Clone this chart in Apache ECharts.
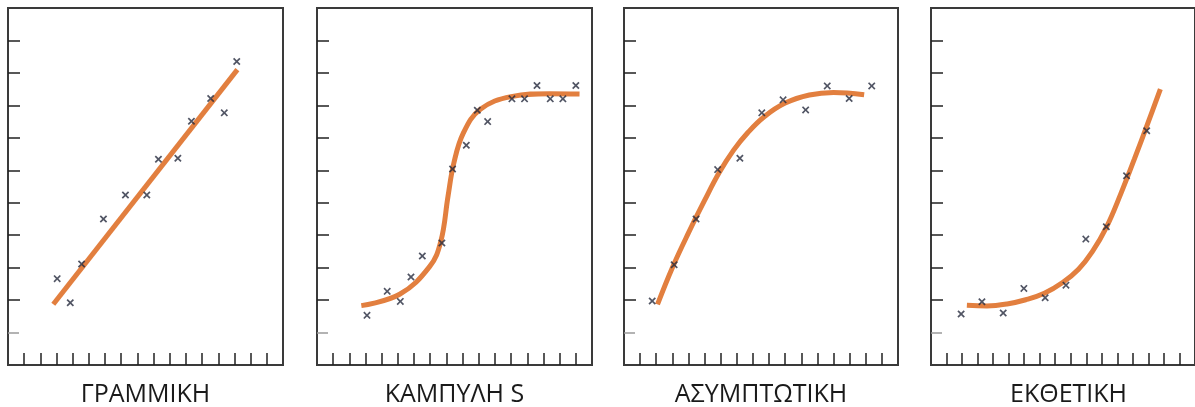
<!DOCTYPE html>
<html>
<head>
<meta charset="utf-8">
<script src="https://cdn.jsdelivr.net/npm/echarts@6/dist/echarts.min.js"></script>
<style>
html,body{margin:0;padding:0;background:#fff;}
#chart{width:1195px;height:407px;}
</style>
</head>
<body>
<div id="chart"></div>
<script>
// ---- data ----
const panelTitles = ['ΓΡΑΜΜΙΚΗ', 'ΚΑΜΠΥΛΗ S', 'ΑΣΥΜΠΤΩΤΙΚΗ', 'ΕΚΘΕΤΙΚΗ'];
const xTicks = [1,2,3,4,5,6,7,8,9,10,11,12,13,14,15,16];
const yTicksDark = [2,3,4,5,6,7,8,9,10];
const yTicksLight = [1];

const linearPoints = [[3.04,2.66],[3.85,1.92],[4.55,3.11],[5.9,4.5],[7.26,5.24],[8.58,5.24],[9.3,6.34],[10.5,6.37],[11.34,7.51],[12.53,8.21],[13.37,7.77],[14.14,9.35]];
const linearFit = [[2.8,1.87],[14.18,9.1]];

const sPoints = [[3.09,1.53],[4.34,2.27],[5.15,1.96],[5.81,2.71],[6.51,3.36],[7.72,3.76],[8.38,6.04],[9.23,6.77],[9.91,7.85],[10.55,7.5],[12.05,8.2],[12.83,8.2],[13.6,8.61],[14.42,8.2],[15.2,8.2],[16.0,8.61]];
const sFit = [[2.74,1.83],[5.11,2.18],[6.96,3.03],[7.65,3.8],[8.1,5.2],[8.45,6.2],[9.05,7.15],[10.1,7.88],[12.0,8.27],[14.38,8.36],[16.23,8.35]];

const asymPoints = [[1.75,1.97],[3.11,3.09],[4.47,4.5],[5.81,6.02],[7.19,6.37],[8.55,7.77],[9.87,8.17],[11.27,7.86],[12.61,8.6],[13.97,8.21],[15.37,8.6]];
const asymFit = [[2.08,1.87],[3.0,3.0],[4.0,4.07],[5.0,5.07],[5.9,5.92],[6.8,6.62],[7.7,7.17],[8.7,7.65],[10.0,8.07],[11.5,8.32],[13.0,8.4],[14.9,8.33]];

const expPoints = [[1.94,1.57],[3.28,1.95],[4.65,1.6],[5.98,2.36],[7.35,2.07],[8.69,2.46],[9.97,3.88],[11.29,4.26],[12.59,5.83],[13.89,7.22]];
const expFit = [[2.31,1.84],[3.6,1.82],[4.9,1.88],[6.1,2.01],[7.3,2.21],[8.5,2.55],[9.5,2.95],[10.4,3.5],[11.3,4.25],[12.2,5.25],[13.1,6.35],[14.0,7.5],[14.77,8.5]];

// ---- layout ----
const panelLeft = [8, 317, 624, 931];
const panelWidth = [275, 275, 274, 275];
const panelTop = 8, panelHeight = 357;
const pointSets = [linearPoints, sPoints, asymPoints, expPoints];
const fitSets = [linearFit, sFit, asymFit, expFit];

const xMark = 'path://M0,1.6L1.6,0L5,3.4L8.4,0L10,1.6L6.6,5L10,8.4L8.4,10L5,6.6L1.6,10L0,8.4L3.4,5Z';
const lineColor = '#E27F3F';
const markColor = '#262b3d';

const grids = [], xAxes = [], yAxes = [], series = [], graphics = [];
for (let i = 0; i < 4; i++) {
  grids.push({
    left: panelLeft[i], top: panelTop, width: panelWidth[i], height: panelHeight,
    show: true, borderColor: '#3a3a3a', borderWidth: 2, backgroundColor: '#fff'
  });
  xAxes.push({
    type: 'value', gridIndex: i, min: 0, max: 17, interval: 1,
    axisLine: {show: false}, splitLine: {show: false}, axisLabel: {show: false},
    axisTick: {show: true, inside: true, length: 12, customValues: xTicks, lineStyle: {color: '#222', width: 1.5}}
  });
  yAxes.push({
    type: 'value', gridIndex: i, min: 0, max: 11, interval: 1,
    axisLine: {show: false}, splitLine: {show: false}, axisLabel: {show: false},
    axisTick: {show: true, inside: true, length: 12, customValues: yTicksDark, lineStyle: {color: '#222', width: 1.5}}
  });
  yAxes.push({
    type: 'value', gridIndex: i, min: 0, max: 11, interval: 1, position: 'left',
    axisLine: {show: false}, splitLine: {show: false}, axisLabel: {show: false},
    axisTick: {show: true, inside: true, length: 11, customValues: yTicksLight, lineStyle: {color: '#9a9a9a', width: 1.5}}
  });
  series.push({
    type: 'line', xAxisIndex: i, yAxisIndex: 2 * i, data: fitSets[i],
    smooth: 0.4, showSymbol: false, symbol: 'none',
    lineStyle: {color: lineColor, width: 5}, z: 2, silent: true
  });
  series.push({
    type: 'scatter', xAxisIndex: i, yAxisIndex: 2 * i, data: pointSets[i],
    symbol: xMark, symbolSize: 7.5, itemStyle: {color: markColor}, z: 3, silent: true
  });
  graphics.push({
    type: 'text', x: panelLeft[i] + panelWidth[i] / 2, y: 395,
    style: {text: panelTitles[i], fill: '#1a1a1a', font: '25px "Open Sans", "Noto Sans", sans-serif', textAlign: 'center', textVerticalAlign: 'middle'}
  });
}

const chart = echarts.init(document.getElementById('chart'), null, {renderer: 'canvas'});
chart.setOption({
  animation: false,
  backgroundColor: '#fff',
  grid: grids, xAxis: xAxes, yAxis: yAxes, series: series,
  graphic: graphics
});
</script>
</body>
</html>
